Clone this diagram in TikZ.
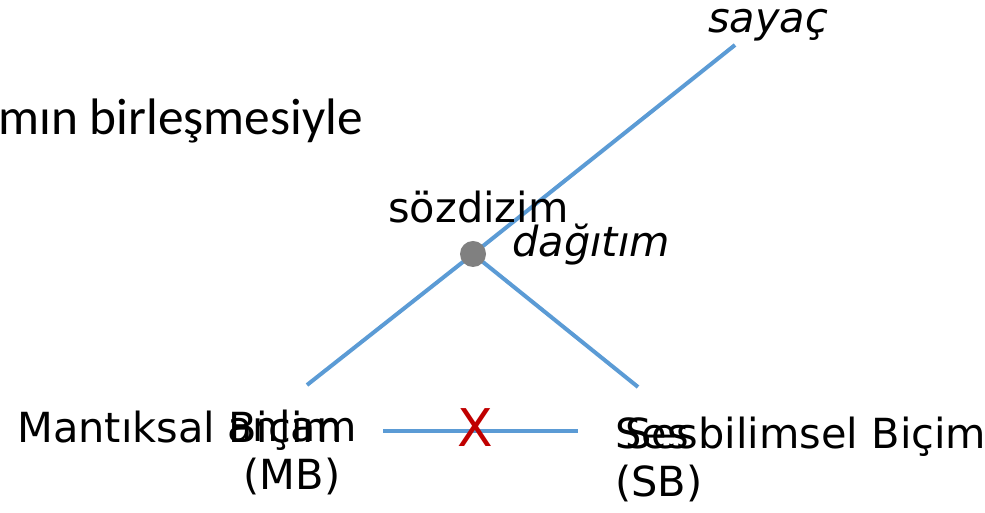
\documentclass[tikz,border=0pt]{standalone}
\usepackage{fontspec}
\setmainfont{DejaVu Sans}
\newfontfamily\calibri{Carlito}
\definecolor{treeblue}{RGB}{91,155,213}
\definecolor{dotgray}{RGB}{128,128,128}
\definecolor{crossred}{RGB}{192,0,0}
\tikzset{
  lbl/.style={inner sep=0pt, font=\fontsize{29.5}{34.2}\selectfont},
  branch/.style={draw=treeblue, line width=0.1cm},
  dot/.style={circle, fill=dotgray, minimum size=0.65cm, inner sep=0pt},
}
\begin{document}
\begin{tikzpicture}
\useasboundingbox (0,0) rectangle (24.625,12.825);
\coordinate (root) at (11.825,6.475);
\coordinate (top) at (18.375,11.7);
\coordinate (mbend) at (7.675,3.2);
\coordinate (sbend) at (15.95,3.15);
\coordinate (mbline) at (9.575,2.05);
\coordinate (sbline) at (14.45,2.05);
\draw[branch] (mbend) -- (root) -- (top);
\draw[branch] (root) -- (sbend);
\draw[branch] (mbline) -- (sbline);
\node[dot] (rootdot) at (root) {};
\node[text=crossred, inner sep=0pt, font=\fontsize{37}{37}\selectfont] (cross) at (11.875,2.125) {X};
\node[lbl, anchor=base east, font=\calibri\fontsize{36.5}{40}\selectfont] (intro) at (9.075,9.45) {mın birleşmesiyle};
\node[lbl, anchor=base west, font=\fontsize{29.5}{34.2}\selectfont\itshape] (counter) at (17.7,12.0) {sayaç};
\node[lbl, anchor=base west] (syntax) at (9.7,7.25) {sözdizim};
\node[lbl, anchor=base west, font=\fontsize{29.5}{34.2}\selectfont\itshape] (spread) at (12.8,6.4) {dağıtım};
\node[lbl, anchor=base west] (lf) at (0.425,1.75) {Mantıksal Biçim};
\node[lbl, anchor=base, align=center] (meaning) at (7.3,0.575) {anlam\\(MB)};
\node[lbl, anchor=base west, align=left] (sound) at (15.375,0.4) {Ses\\(SB)};
\node[lbl, anchor=base west] (pf) at (15.62,1.6) {Sesbilimsel Biçim};
\end{tikzpicture}
\end{document}
